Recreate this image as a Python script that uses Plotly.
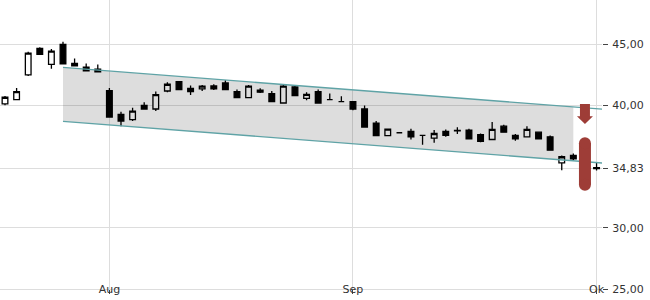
import pandas as pd
import plotly.graph_objects as go

# ---- data ----
dates = [d.strftime("%Y-%m-%d") for d in pd.bdate_range("2025-07-21", "2025-10-01")
         if d.strftime("%Y-%m-%d") != "2025-09-01"]
opens  = [40.11, 40.47, 42.48, 44.65, 43.34, 44.98, 43.42, 43.11, 42.95, 41.20,
          39.26, 38.83, 40.00, 39.70, 41.17, 41.94, 41.39, 41.34, 41.58, 41.83,
          41.12, 40.63, 41.23, 40.96, 40.19, 41.50, 40.57, 41.12, 40.47, 40.30,
          40.30, 39.70, 38.55, 37.52, 37.76, 37.87, 37.54, 37.32, 37.87, 37.95,
          37.98, 37.60, 37.21, 38.30, 37.54, 37.43, 37.81, 37.43, 35.30, 35.90,
          35.45, 34.90]
highs  = [40.76, 41.42, 44.37, 44.75, 44.59, 45.19, 43.83, 43.42, 43.34, 41.42,
          39.48, 39.81, 40.25, 41.12, 41.89, 41.94, 41.61, 41.66, 41.72, 42.05,
          41.29, 41.66, 41.39, 41.17, 41.66, 41.61, 41.07, 41.29, 40.96, 40.74,
          40.35, 39.98, 38.71, 38.09, 37.78, 38.09, 37.54, 37.98, 38.03, 38.20,
          38.09, 37.70, 38.63, 38.42, 37.65, 38.30, 37.87, 37.54, 35.90, 36.07,
          35.61, 35.33]
lows   = [40.00, 40.47, 42.40, 44.16, 42.98, 43.39, 43.22, 42.81, 42.73, 39.04,
          38.30, 38.71, 39.70, 39.53, 41.07, 41.29, 40.84, 41.17, 41.25, 41.29,
          40.63, 40.63, 41.01, 40.30, 40.19, 40.80, 40.41, 40.19, 40.47, 40.30,
          39.59, 38.22, 37.52, 37.52, 37.74, 37.21, 36.78, 36.94, 37.43, 37.65,
          37.27, 36.99, 37.21, 37.81, 37.11, 37.43, 37.27, 36.34, 34.70, 35.52,
          34.98, 34.67]
closes = [40.66, 41.12, 44.26, 44.16, 44.43, 43.39, 43.22, 42.81, 42.73, 39.04,
          38.71, 39.53, 39.70, 40.88, 41.72, 41.29, 41.12, 41.56, 41.34, 41.29,
          40.63, 41.56, 41.07, 40.30, 41.56, 40.80, 40.90, 40.19, 40.47, 40.30,
          39.70, 38.22, 37.52, 38.06, 37.76, 37.43, 37.54, 37.70, 37.54, 37.92,
          37.27, 37.05, 38.03, 37.81, 37.27, 38.03, 37.27, 36.34, 35.80, 35.63,
          34.98, 34.83]

month_starts = ["2025-08-01", "2025-09-02", "2025-10-01"]
month_labels = ["Aug", "Sep", "Ok"]
y_ticks = [25.0, 30.0, 34.83, 40.0, 45.0]
y_tick_labels = ["25,00", "30,00", "34,83", "40,00", "45,00"]

# trend channel
channel_start = dates.index("2025-07-28")
channel_fill_end = dates.index("2025-09-29")
channel_upper_start = 43.09
channel_lower_start = 38.69
channel_slope = -0.0732       # per bar

# sell signal
signal_day = "2025-09-30"
arrow_top, arrow_neck, arrow_tip = 40.10, 39.10, 38.47
bar_top, bar_bottom = 36.91, 33.52

# ---- figure ----
x = list(range(len(dates)))
x_lo, x_hi = -0.431, 51.47
sig = dates.index(signal_day)

def chan(base, i):
    return base + channel_slope * (i - channel_start)

fig = go.Figure()

# channel fill
fig.add_trace(go.Scatter(
    x=[channel_start, channel_fill_end, channel_fill_end, channel_start],
    y=[chan(channel_upper_start, channel_start), chan(channel_upper_start, channel_fill_end),
       chan(channel_lower_start, channel_fill_end), chan(channel_lower_start, channel_start)],
    fill="toself", fillcolor="rgba(0,0,0,0.135)", mode="none", hoverinfo="skip",
    showlegend=False))
# channel lines
for base in (channel_upper_start, channel_lower_start):
    fig.add_trace(go.Scatter(
        x=[channel_start, x_hi + 1],
        y=[chan(base, channel_start), chan(base, x_hi + 1)],
        mode="lines", line=dict(color="#5fa3a6", width=1.3),
        hoverinfo="skip", showlegend=False))

# red signal bar (capsule)
red = "#9e3d37"
fig.add_trace(go.Scatter(
    x=[sig, sig], y=[bar_top, bar_bottom], mode="lines+markers",
    line=dict(color=red, width=12), marker=dict(color=red, size=12),
    hoverinfo="skip", showlegend=False))

# candles
fig.add_trace(go.Candlestick(
    x=x, open=opens, high=highs, low=lows, close=closes,
    increasing=dict(line=dict(color="black", width=1.3), fillcolor="white"),
    decreasing=dict(line=dict(color="black", width=1.3), fillcolor="black"),
    whiskerwidth=0, showlegend=False))

# arrow (shape)
hw_shaft, hw_head = 0.43, 0.69
path = (f"M {sig-hw_shaft},{arrow_top} L {sig+hw_shaft},{arrow_top} "
        f"L {sig+hw_shaft},{arrow_neck} L {sig+hw_head},{arrow_neck} "
        f"L {sig},{arrow_tip} L {sig-hw_head},{arrow_neck} "
        f"L {sig-hw_shaft},{arrow_neck} Z")
fig.add_shape(type="path", path=path, xref="x", yref="y",
              fillcolor=red, line=dict(width=0), layer="above")

font = dict(family="DejaVu Sans", size=11, color="#333333")
fig.update_layout(
    width=650, height=300,
    margin=dict(l=0, r=48, t=0, b=11),
    paper_bgcolor="white", plot_bgcolor="white",
    showlegend=False, font=font,
    xaxis=dict(
        range=[x_lo, x_hi], rangeslider=dict(visible=False),
        tickvals=[dates.index(d) for d in month_starts], ticktext=month_labels,
        showgrid=True, gridcolor="#dddddd", gridwidth=1, zeroline=False,
        ticks="outside", ticklen=4, tickcolor="#444444",
        ticklabelposition="inside", ticklabelstandoff=-7,
        ticklabeloverflow="allow",
        showline=True, linecolor="#dddddd", linewidth=1, tickfont=font),
    yaxis=dict(
        range=[25, 48.6], side="right",
        tickvals=y_ticks, ticktext=y_tick_labels,
        showgrid=True, gridcolor="#dddddd", gridwidth=1, zeroline=False,
        ticks="outside", ticklen=5, tickcolor="#444444", tickfont=font,
        ticklabelstandoff=2),
)

fig.write_html("out.html")
